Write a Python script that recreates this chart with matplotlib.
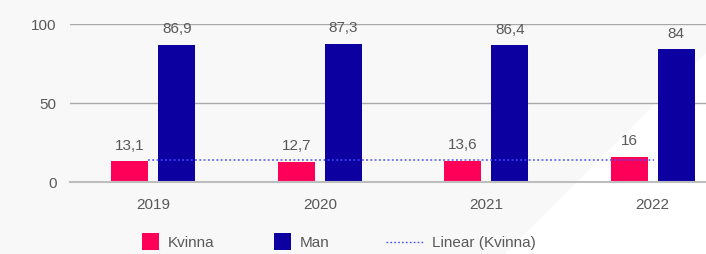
import matplotlib
matplotlib.use("Agg")
import matplotlib.pyplot as plt
from matplotlib.patches import Rectangle, Polygon
from matplotlib.lines import Line2D
import numpy as np

categories = ["2019", "2020", "2021", "2022"]
kvinna = [13.1, 12.7, 13.6, 16]
man = [86.9, 87.3, 86.4, 84]
yticks = [0, 50, 100]

plt.rcParams['font.family'] = ['Liberation Sans', 'DejaVu Sans']
TXT = '#595959'
PINK = '#FF0059'
BLUE = '#0C00A0'
TREND = '#4B4BFF'
FS = 11

fig = plt.figure(figsize=(7.06, 2.55), dpi=100)
fig.patch.set_facecolor('#F8F8F8')

# background axes with subtle white diagonal region bottom right
bg = fig.add_axes([0, 0, 1, 1], zorder=-1)
bg.set_xlim(0, 706)
bg.set_ylim(255, 0)
bg.axis('off')
bg.add_patch(Polygon([(505, 255), (706, 255), (706, 54)], closed=True,
                     facecolor='white', edgecolor='none'))

ax = fig.add_axes([70/706, (255-183)/255, 666/706, 158/255], zorder=1)
ax.set_facecolor('none')
x = np.arange(len(categories))
off = 0.141
w = 0.222
ax.bar(x - off, kvinna, w, color=PINK, zorder=3)
ax.bar(x + off, man, w, color=BLUE, zorder=3)

def fmt(v):
    return ('%g' % v).replace('.', ',')

for xi, v in zip(x - off, kvinna):
    ax.annotate(fmt(v), (xi, v), xytext=(0, 7), textcoords='offset points',
                ha='center', va='bottom', color=TXT, fontsize=FS)
for xi, v in zip(x + off, man):
    ax.annotate(fmt(v), (xi, v), xytext=(0, 7), textcoords='offset points',
                ha='center', va='bottom', color=TXT, fontsize=FS)

mean_k = np.mean(kvinna)
ax.plot([x[0] - 0.03, x[-1] + 0.01], [mean_k, mean_k], linestyle=(0, (1.2, 1.6)),
        color=TREND, lw=1.1, zorder=4)

ax.set_xlim(-0.5, len(categories) - 0.5)
ax.set_ylim(0, 100)
ax.set_yticks(yticks)
ax.set_xticks(x)
ax.set_xticklabels(categories)
ax.tick_params(axis='both', length=0, colors=TXT, labelsize=FS)
ax.tick_params(axis='y', pad=9.5)
ax.tick_params(axis='x', pad=11)
ax.grid(axis='y', color='#A8A8A8', lw=1, zorder=0)
for s in ['top', 'right', 'left']:
    ax.spines[s].set_visible(False)
ax.spines['bottom'].set_color('#BDBDBD')
ax.spines['bottom'].set_linewidth(1.5)
ax.spines['bottom'].set_zorder(5)

# legend drawn manually
ly = 1 - 243/255
def sq(x0, color):
    fig.patches.append(Rectangle((x0/706, 1 - 251/255), 17/706, 17/255, transform=fig.transFigure,
                                 facecolor=color, edgecolor='none'))
sq(142, PINK)
fig.text(168/706, ly, 'Kvinna', color=TXT, fontsize=FS, va='center', ha='left')
sq(274, BLUE)
fig.text(300/706, ly, 'Man', color=TXT, fontsize=FS, va='center', ha='left')
fig.lines.append(Line2D([386/706, 423/706], [ly, ly], transform=fig.transFigure,
                        color=TREND, lw=1, linestyle=(0, (1.2, 1.6))))
fig.text(432/706, ly, 'Linear (Kvinna)', color=TXT, fontsize=FS, va='center', ha='left')

fig.savefig('out.png', dpi=100, facecolor=fig.get_facecolor())
